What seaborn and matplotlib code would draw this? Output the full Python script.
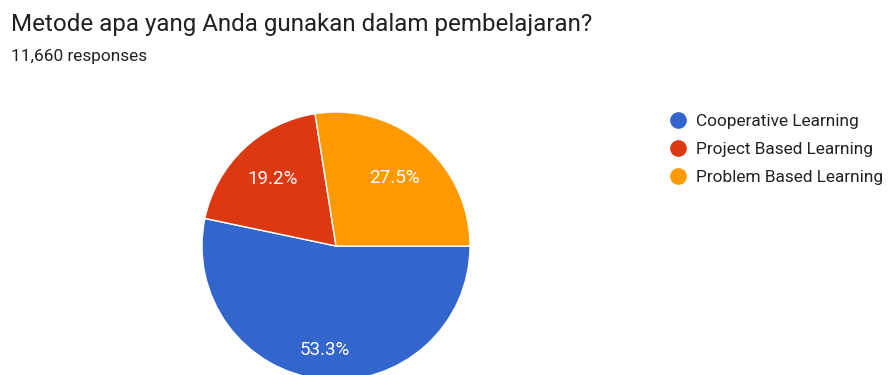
import matplotlib
matplotlib.use("Agg")
import matplotlib.pyplot as plt
from matplotlib.lines import Line2D
import seaborn as sns

categories = ["Cooperative Learning", "Project Based Learning", "Problem Based Learning"]
values = [53.3, 19.2, 27.5]
colors = ["#3366CC", "#DC3912", "#FF9900"]
title = "Metode apa yang Anda gunakan dalam pembelajaran?"
subtitle = "11,660 responses"

sns.set_theme(style="white")
plt.rcParams["font.family"] = ["Roboto", "DejaVu Sans"]

W, H = 892, 375
fig = plt.figure(figsize=(W / 100, H / 100), dpi=100)
fig.patch.set_facecolor("white")

# pie axes: center (336, 246), radius 134 px
cx, cy, r = 336, 246, 134
ax = fig.add_axes([(cx - r) / W, (H - cy - r) / H, 2 * r / W, 2 * r / H])
wedges, texts, autotexts = ax.pie(
    values, colors=colors, startangle=0, counterclock=False,
    autopct="%1.1f%%", pctdistance=0.7, radius=1,
    wedgeprops=dict(edgecolor="white", linewidth=1),
    textprops=dict(color="white", fontsize=13.5),
)
label_dist = [0.78, 0.69, 0.67]
for t, d in zip(autotexts, label_dist):
    x, y = t.get_position()
    rr = (x ** 2 + y ** 2) ** 0.5
    t.set_position((x / rr * d, y / rr * d))
ax.set_xlim(-1, 1)
ax.set_ylim(-1, 1)
ax.set_aspect("equal")
ax.axis("off")

fig.text(11 / W, 1 - 31 / H, title, fontsize=17.4, color="#202124", va="baseline", ha="left")
fig.text(11 / W, 1 - 61 / H, subtitle, fontsize=12.4, color="#202124", va="baseline", ha="left")

handles = [Line2D([0], [0], marker="o", linestyle="none", markersize=11,
                  markerfacecolor=c, markeredgecolor=c) for c in colors]
leg = fig.legend(handles, categories, loc="upper left",
                 bbox_to_anchor=(669 / W, 1 - 114 / H), frameon=False,
                 fontsize=12.4, handletextpad=0.55, labelspacing=0.74,
                 handlelength=1.0, borderaxespad=0, borderpad=0)
for t in leg.get_texts():
    t.set_color("#222222")

fig.savefig("out.png", dpi=100, facecolor="white")
